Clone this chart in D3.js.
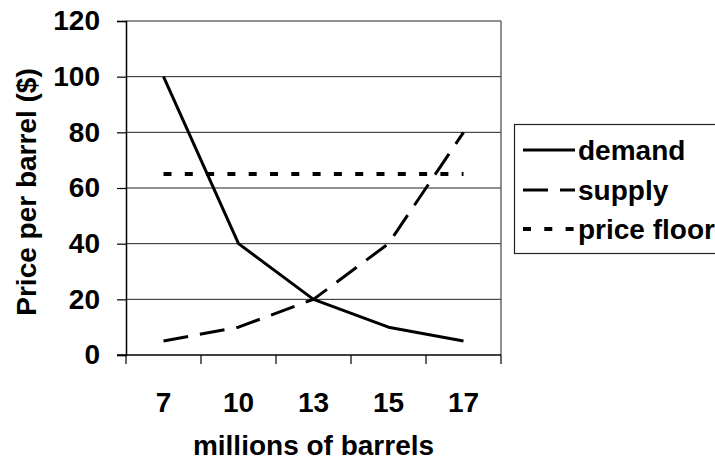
<!DOCTYPE html>
<html>
<head>
<meta charset="utf-8">
<script src="https://cdn.jsdelivr.net/npm/d3@7"></script>
<style>
  html, body { margin: 0; padding: 0; background: #fff; }
  svg { display: block; font-family: Arial, "Liberation Sans", sans-serif; font-weight: bold; }
</style>
</head>
<body>
<svg id="chart" width="715" height="469"></svg>
<script>
// Quantity categories (millions of barrels)
const categories = ["7", "10", "13", "15", "17"];
// Price per barrel for each curve
const demand = [100, 40, 20, 10, 5];
const supply = [5, 10, 20, 40, 80];
const priceFloor = [65, 65, 65, 65, 65];
const yTicks = [0, 20, 40, 60, 80, 100, 120];

const seriesList = [
  { name: "demand", values: demand, dash: null, width: 3 },
  { name: "supply", values: supply, dash: "25,12", width: 3 },
  { name: "price floor", values: priceFloor, dash: "8,13.3", width: 4 }
];

const FONT = 28;
const svg = d3.select("#chart");
const plot = { left: 126, right: 501, top: 21, bottom: 355 };

const x = d3.scaleBand().domain(categories).range([plot.left, plot.right]);
const y = d3.scaleLinear().domain([0, 120]).range([plot.bottom, plot.top]);

// horizontal gridlines
svg.append("g")
  .selectAll("line")
  .data(yTicks.filter(d => d > 0))
  .join("line")
  .attr("x1", plot.left).attr("x2", plot.right)
  .attr("y1", d => y(d)).attr("y2", d => y(d))
  .attr("stroke", "#222").attr("stroke-width", 1);

// plot area border (right edge)
svg.append("line")
  .attr("x1", plot.right).attr("x2", plot.right)
  .attr("y1", plot.top).attr("y2", plot.bottom)
  .attr("stroke", "#444").attr("stroke-width", 1.2);

// y axis
const yAxis = svg.append("g")
  .attr("transform", `translate(${plot.left},0)`)
  .call(d3.axisLeft(y).tickValues(yTicks).tickSize(9).tickPadding(17));
yAxis.select(".domain").attr("stroke", "#000").attr("stroke-width", 1.5);
yAxis.selectAll(".tick line").attr("stroke", "#000").attr("stroke-width", 1.2);
yAxis.selectAll(".tick text")
  .attr("font-size", FONT).attr("font-weight", "bold").attr("fill", "#000")
  .attr("font-family", "Arial, 'Liberation Sans', sans-serif");

// x axis: ticks at category boundaries
const xAxis = svg.append("g")
  .attr("transform", `translate(0,${plot.bottom})`);
xAxis.append("line")
  .attr("x1", plot.left - 9).attr("x2", plot.right)
  .attr("stroke", "#000").attr("stroke-width", 1.5);
const boundaries = categories.map(c => x(c)).concat([x.range()[1]]);
xAxis.selectAll("line.tk")
  .data(boundaries)
  .join("line")
  .attr("class", "tk")
  .attr("x1", d => d).attr("x2", d => d)
  .attr("y1", 0).attr("y2", 9)
  .attr("stroke", "#000").attr("stroke-width", 1.2);
xAxis.selectAll("text")
  .data(categories)
  .join("text")
  .attr("x", d => x(d) + x.bandwidth() / 2)
  .attr("y", 57)
  .attr("text-anchor", "middle")
  .attr("font-size", FONT)
  .text(d => d);

// axis titles
svg.append("text")
  .attr("x", (plot.left + plot.right) / 2)
  .attr("y", 455)
  .attr("text-anchor", "middle")
  .attr("font-size", FONT)
  .text("millions of barrels");

svg.append("text")
  .attr("transform", `translate(36,192) rotate(-90)`)
  .attr("text-anchor", "middle")
  .attr("font-size", FONT)
  .text("Price per barrel ($)");

// series lines
const line = d3.line()
  .x((d, i) => x(categories[i]) + x.bandwidth() / 2)
  .y(d => y(d));

svg.append("g")
  .selectAll("path")
  .data(seriesList)
  .join("path")
  .attr("d", s => line(s.values))
  .attr("fill", "none")
  .attr("stroke", "#000")
  .attr("stroke-width", s => s.width)
  .attr("stroke-dasharray", s => s.dash)
  .attr("stroke-linejoin", "round");

// legend
const legend = svg.append("g");
legend.append("rect")
  .attr("x", 514.5).attr("y", 124.5)
  .attr("width", 220).attr("height", 129)
  .attr("fill", "#fff").attr("stroke", "#222").attr("stroke-width", 1.2);

const legendY = [150, 190, 229];
const item = legend.selectAll("g.item")
  .data(seriesList)
  .join("g")
  .attr("class", "item")
  .attr("transform", (d, i) => `translate(0,${legendY[i]})`);
item.append("line")
  .attr("x1", 523).attr("x2", 575)
  .attr("stroke", "#000")
  .attr("stroke-width", d => d.width)
  .attr("stroke-dasharray", d => d.dash);
item.append("text")
  .attr("x", 578)
  .attr("dy", "0.36em")
  .attr("font-size", FONT)
  .text(d => d.name);
</script>
</body>
</html>
